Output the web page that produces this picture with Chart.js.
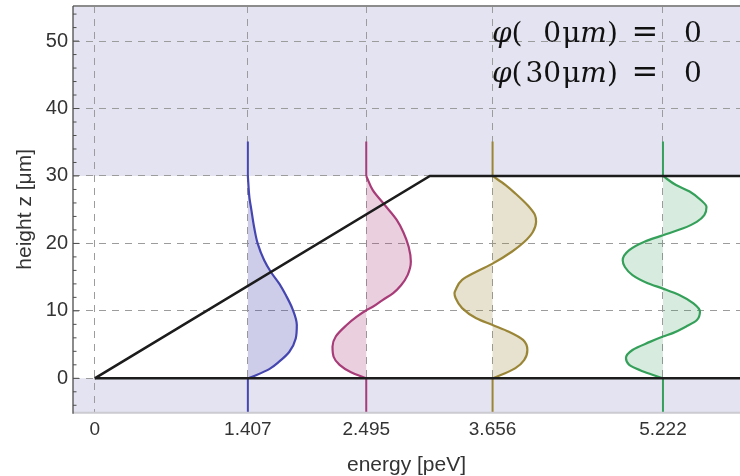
<!DOCTYPE html>
<html>
<head>
<meta charset="utf-8">
<script src="https://cdn.jsdelivr.net/npm/chart.js@4.4.1/dist/chart.umd.min.js"></script>
<style>
  html, body { margin: 0; padding: 0; background: #fff; }
</style>
</head>
<body>
<canvas id="chart" width="740" height="476"></canvas>
<script>
'use strict';

// energy levels [peV] and axis ticks
var energies = [1.407, 2.495, 3.656, 5.222];
var xTicks = [0, 1.407, 2.495, 3.656, 5.222];
var xTickLabels = ['0', '1.407', '2.495', '3.656', '5.222'];
var yTicks = [0, 10, 20, 30, 40, 50];
var yMinorTicks = [-4, -2, 2, 4, 6, 8, 12, 14, 16, 18, 22, 24, 26, 28, 32, 34, 36, 38, 42, 44, 46, 48, 52, 54];

// wave functions: height z [um] and horizontal offset from the level [peV]
var waveZ1 = [0, 0.5, 1.4, 2.5, 3.9, 5.9, 7.9, 10.3, 12.3, 14.0, 15.8, 17.5, 20, 22.2, 25.2, 26.7, 30];
var waveDx1 = [0, 0.08, 0.20, 0.29, 0.38, 0.44, 0.45, 0.41, 0.35, 0.29, 0.21, 0.15, 0.09, 0.06, 0.03, 0.015, 0];

var waveZ2 = [0, 0.9, 2.0, 3.2, 4.7, 6.2, 7.9, 9.1, 10.1, 10.6, 11.6, 12.6, 13.8, 15.3, 17.3, 19.5, 21.7, 23.5, 25.7, 27.9, 30];
var waveDx2 = [0, -0.14, -0.245, -0.30, -0.31, -0.28, -0.18, -0.09, 0, 0.06, 0.15, 0.245, 0.32, 0.38, 0.41, 0.39, 0.34, 0.28, 0.17, 0.06, 0];

var waveZ3 = [0, 0.7, 1.5, 2.7, 4.2, 5.7, 6.9, 7.9, 8.9, 10.4, 11.9, 12.6, 13.1, 14.6, 15.8, 17.0, 18.8, 20.2, 21.7, 23.2, 24.2, 25.7, 27.4, 28.65, 30];
var waveDx3 = [0, 0.11, 0.21, 0.29, 0.32, 0.28, 0.15, 0, -0.15, -0.28, -0.34, -0.35, -0.34, -0.28, -0.15, 0, 0.18, 0.29, 0.37, 0.40, 0.39, 0.32, 0.21, 0.12, 0];

var waveZ4 = [0, 0.5, 1.2, 2.0, 3.0, 4.2, 5.4, 6.2, 6.7, 7.65, 8.6, 9.9, 11.1, 12.35, 13.3, 14.1, 15.3, 16.5, 17.5, 19.0, 20.25, 21.2, 22.2, 23.2, 24.2, 25.4, 26.4, 27.7, 28.65, 30];
var waveDx4 = [0, -0.09, -0.21, -0.31, -0.34, -0.28, -0.12, 0, 0.09, 0.21, 0.31, 0.34, 0.28, 0.15, 0, -0.14, -0.28, -0.35, -0.37, -0.31, -0.17, 0, 0.18, 0.31, 0.38, 0.40, 0.35, 0.245, 0.12, 0];

// potential: slope plus walls at 0 and 30 um
var wellX = [0, 3.08, 6.5];
var wellZ = [0, 30, 30];
var floorX = [0, 6.5];
var floorZ = [0, 0];

// short level markers outside the box
var stubLowZ = [-6, 0];
var stubHighZ = [30, 35.1];

var lineColors = ['#4646b0', '#a83c78', '#9a8636', '#35a05a'];
var fillColors = ['rgba(70,70,176,0.27)', 'rgba(168,60,120,0.24)', 'rgba(154,134,54,0.24)', 'rgba(53,160,90,0.2)'];

var waveZ = [waveZ1, waveZ2, waveZ3, waveZ4];
var waveDx = [waveDx1, waveDx2, waveDx3, waveDx4];

function pts(xs, zs) {
    return xs.map(function (x, i) { return { x: x, y: zs[i] }; });
}

var datasets = [];

datasets.push({ data: pts(wellX, wellZ), borderColor: '#1c1c1c', borderWidth: 2.6, tension: 0, fill: false });
datasets.push({ data: pts(floorX, floorZ), borderColor: '#1c1c1c', borderWidth: 2.6, tension: 0, fill: false });

energies.forEach(function (e, i) {
    datasets.push({
        data: waveZ[i].map(function (z, k) { return { x: e + waveDx[i][k], y: z }; }),
        borderColor: lineColors[i],
        backgroundColor: fillColors[i],
        borderWidth: 2.2,
        cubicInterpolationMode: 'monotone',
        fill: { value: e }
    });
    datasets.push({ data: pts([e, e], stubLowZ), borderColor: lineColors[i], borderWidth: 2, fill: false });
    datasets.push({ data: pts([e, e], stubHighZ), borderColor: lineColors[i], borderWidth: 2, fill: false });
});

var backdrop = {
    id: 'backdrop',
    beforeDraw: function (chart) {
        var ctx = chart.ctx, a = chart.chartArea, y = chart.scales.y;
        ctx.save();
        ctx.fillStyle = '#e3e3f1';
        ctx.fillRect(a.left, a.top, a.right - a.left, a.bottom - a.top);
        var y30 = y.getPixelForValue(30), y0 = y.getPixelForValue(0);
        ctx.fillStyle = '#ffffff';
        ctx.fillRect(a.left, y30, a.right - a.left, y0 - y30);
        ctx.restore();
    },
    afterDraw: function (chart) {
        var ctx = chart.ctx, a = chart.chartArea, y = chart.scales.y;
        ctx.save();
        ctx.lineWidth = 2;
        ctx.strokeStyle = '#cbcbd1';
        ctx.beginPath(); ctx.moveTo(a.left, a.bottom); ctx.lineTo(a.right, a.bottom); ctx.stroke();
        ctx.strokeStyle = '#8c8c8c';
        ctx.beginPath(); ctx.moveTo(a.left, a.top); ctx.lineTo(a.right, a.top); ctx.stroke();
        ctx.lineWidth = 1.3;
        ctx.strokeStyle = '#4d4d4d';
        ctx.beginPath(); ctx.moveTo(a.left, a.top); ctx.lineTo(a.left, a.bottom + 1); ctx.stroke();
        ctx.lineWidth = 1;
        yTicks.forEach(function (v) {
            var p = y.getPixelForValue(v);
            ctx.beginPath(); ctx.moveTo(a.left, p); ctx.lineTo(a.left + 6, p); ctx.stroke();
        });
        yMinorTicks.forEach(function (v) {
            var p = y.getPixelForValue(v);
            ctx.beginPath(); ctx.moveTo(a.left, p); ctx.lineTo(a.left + 3.5, p); ctx.stroke();
        });

        // boundary conditions note
        ctx.fillStyle = '#111';
        ctx.textBaseline = 'alphabetic';
        function piece(text, x, yy, italic, gap) {
            ctx.font = (italic ? 'italic ' : '') + '28px "DejaVu Serif"';
            ctx.fillText(text, x, yy);
            return x + ctx.measureText(text).width + (gap || 0);
        }
        function line(depth, yy) {
            var x = piece('φ', 492, yy, true);
            x = piece('(', x, yy, false, 3);
            if (depth.length < 2) {
                ctx.font = '28px "DejaVu Serif"';
                x += ctx.measureText('3').width;
            }
            x = piece(depth, x, yy, false, 1);
            x = piece('μ', x, yy);
            x = piece('m', x, yy, true);
            piece(')', x, yy);
            ctx.save();
            ctx.font = '32px "DejaVu Serif"';
            ctx.textAlign = 'center';
            ctx.fillText('=', 645, yy);
            ctx.restore();
            piece('0', 684, yy);
        }
        line('0', 42);
        line('30', 82);
        ctx.restore();
    }
};

new Chart(document.getElementById('chart'), {
    type: 'line',
    data: { datasets: datasets },
    plugins: [backdrop],
    options: {
        responsive: false,
        animation: false,
        indexAxis: 'y',
        layout: { padding: { top: 6, left: 0, right: 0, bottom: 0 } },
        elements: { point: { radius: 0 } },
        plugins: { legend: { display: false }, tooltip: { enabled: false } },
        scales: {
            x: {
                type: 'linear',
                min: -0.2,
                max: 5.93,
                afterBuildTicks: function (scale) { scale.ticks = xTicks.map(function (v) { return { value: v }; }); },
                afterFit: function (scale) { scale.height = 63.3; scale.paddingLeft = 0; scale.paddingRight = 0; },
                grid: { color: '#9c9c9c', lineWidth: 1, drawTicks: false },
                border: { display: false, dash: [7, 6] },
                ticks: {
                    autoSkip: false,
                    maxRotation: 0,
                    padding: 6,
                    color: '#333',
                    font: { family: '"Liberation Sans", Arial, sans-serif', size: 19 },
                    callback: function (v, i) { return xTickLabels[i]; }
                },
                title: {
                    display: true,
                    text: 'energy [peV]',
                    color: '#333',
                    padding: 0,
                    font: { family: '"Liberation Sans", Arial, sans-serif', size: 21, lineHeight: 1 }
                }
            },
            y: {
                type: 'linear',
                min: -5.1,
                max: 55.2,
                afterBuildTicks: function (scale) { scale.ticks = yTicks.map(function (v) { return { value: v }; }); },
                afterFit: function (scale) { scale.width = 73; scale.paddingTop = 0; scale.paddingBottom = 0; },
                grid: { color: '#9c9c9c', lineWidth: 1, drawTicks: false },
                border: { display: false, dash: [7, 6] },
                ticks: {
                    autoSkip: false,
                    padding: 5,
                    color: '#333',
                    font: { family: '"Liberation Sans", Arial, sans-serif', size: 20 }
                },
                title: {
                    display: true,
                    text: 'height z [μm]',
                    color: '#333',
                    padding: { top: 15, bottom: 0 },
                    font: { family: '"Liberation Sans", Arial, sans-serif', size: 21, lineHeight: 1 }
                }
            }
        }
    }
});
</script>
</body>
</html>
